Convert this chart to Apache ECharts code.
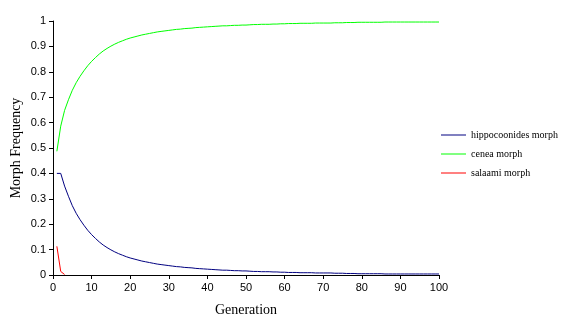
<!DOCTYPE html>
<html>
<head>
<meta charset="utf-8">
<script src="https://cdn.jsdelivr.net/npm/echarts@6/dist/echarts.min.js"></script>
<style>
  html, body { margin: 0; padding: 0; background: #ffffff; }
  #chart { width: 570px; height: 328px; }
</style>
</head>
<body>
<div id="chart"></div>
<script>
// Generation numbers (x values)
const generations = [
  1, 2, 3, 4, 5, 6, 7, 8, 9, 10,
  11, 12, 13, 14, 15, 16, 17, 18, 19, 20,
  21, 22, 23, 24, 25, 26, 27, 28, 29, 30,
  31, 32, 33, 34, 35, 36, 37, 38, 39, 40,
  41, 42, 43, 44, 45, 46, 47, 48, 49, 50,
  51, 52, 53, 54, 55, 56, 57, 58, 59, 60,
  61, 62, 63, 64, 65, 66, 67, 68, 69, 70,
  71, 72, 73, 74, 75, 76, 77, 78, 79, 80,
  81, 82, 83, 84, 85, 86, 87, 88, 89, 90,
  91, 92, 93, 94, 95, 96, 97, 98, 99, 100
];

// Morph frequencies per generation
const hippocoonides = [
  0.400, 0.400, 0.350, 0.310, 0.273, 0.243, 0.218, 0.196, 0.176, 0.159,
  0.144, 0.130, 0.118, 0.108, 0.099, 0.091, 0.084, 0.078, 0.072, 0.067,
  0.063, 0.059, 0.055, 0.052, 0.049, 0.046, 0.043, 0.041, 0.039, 0.037,
  0.035, 0.033, 0.032, 0.030, 0.029, 0.028, 0.026, 0.025, 0.024, 0.023,
  0.022, 0.021, 0.020, 0.019, 0.019, 0.018, 0.017, 0.017, 0.016, 0.016,
  0.015, 0.014, 0.014, 0.013, 0.013, 0.013, 0.012, 0.012, 0.011, 0.011,
  0.010, 0.010, 0.010, 0.009, 0.009, 0.009, 0.009, 0.008, 0.008, 0.008,
  0.008, 0.008, 0.007, 0.007, 0.007, 0.006, 0.006, 0.006, 0.005, 0.005,
  0.005, 0.005, 0.005, 0.005, 0.005, 0.004, 0.004, 0.004, 0.004, 0.004,
  0.004, 0.004, 0.004, 0.004, 0.004, 0.004, 0.004, 0.004, 0.004, 0.004
];

const cenea = [
  0.487, 0.586, 0.648, 0.690, 0.727, 0.757, 0.782, 0.804, 0.824, 0.841,
  0.856, 0.870, 0.882, 0.892, 0.901, 0.909, 0.916, 0.922, 0.928, 0.933,
  0.937, 0.941, 0.945, 0.948, 0.951, 0.954, 0.957, 0.959, 0.961, 0.963,
  0.965, 0.967, 0.968, 0.970, 0.971, 0.972, 0.974, 0.975, 0.976, 0.977,
  0.978, 0.979, 0.980, 0.981, 0.981, 0.982, 0.983, 0.983, 0.984, 0.984,
  0.985, 0.986, 0.986, 0.987, 0.987, 0.987, 0.988, 0.988, 0.989, 0.989,
  0.990, 0.990, 0.990, 0.991, 0.991, 0.991, 0.991, 0.992, 0.992, 0.992,
  0.992, 0.992, 0.993, 0.993, 0.993, 0.994, 0.994, 0.994, 0.995, 0.995,
  0.995, 0.995, 0.995, 0.995, 0.995, 0.996, 0.996, 0.996, 0.996, 0.996,
  0.996, 0.996, 0.996, 0.996, 0.996, 0.996, 0.996, 0.996, 0.996, 0.996
];

const salaami = [0.113, 0.014, 0.002];

const seriesNames = ['hippocoonides morph', 'cenea morph', 'salaami morph'];
const seriesColors = ['#000080', '#00ff00', '#ff0000'];

function pairs(values) {
  return values.map((v, i) => [generations[i], v]);
}

const chart = echarts.init(document.getElementById('chart'), null, { renderer: 'canvas' });

const axisText = { color: '#000', fontFamily: 'Liberation Sans, Arial, sans-serif', fontSize: 11 };
const titleText = { color: '#000', fontFamily: 'Liberation Serif, Times New Roman, serif', fontSize: 14 };

chart.setOption({
  animation: false,
  backgroundColor: '#ffffff',
  grid: { left: 53, top: 21, width: 386, height: 254, containLabel: false, outerBoundsMode: 'none' },
  xAxis: {
    type: 'value',
    min: 0, max: 100, interval: 10,
    name: 'Generation',
    nameLocation: 'middle',
    nameGap: 28,
    nameMoveOverlap: false,
    nameTextStyle: titleText,
    axisLine: { show: true, lineStyle: { color: '#000', width: 1 } },
    axisTick: { show: true, length: 4, lineStyle: { color: '#000' } },
    axisLabel: Object.assign({ margin: 7 }, axisText),
    splitLine: { show: false }
  },
  yAxis: {
    type: 'value',
    min: 0, max: 1, interval: 0.1,
    name: 'Morph Frequency',
    nameLocation: 'middle',
    nameGap: 30,
    nameMoveOverlap: false,
    nameTextStyle: titleText,
    axisLine: { show: true, lineStyle: { color: '#000', width: 1 } },
    axisTick: { show: true, length: 4, lineStyle: { color: '#000' } },
    axisLabel: Object.assign({ margin: 7, formatter: v => String(Math.round(v * 10) / 10) }, axisText),
    splitLine: { show: false }
  },
  legend: {
    orient: 'vertical',
    left: 441,
    top: 129,
    padding: 0,
    itemWidth: 25,
    itemHeight: 1,
    itemGap: 7,
    icon: 'rect',
    textStyle: { color: '#000', fontFamily: 'Liberation Serif, Times New Roman, serif', fontSize: 10, lineHeight: 12 },
    data: seriesNames
  },
  series: [
    { name: seriesNames[0], data: pairs(hippocoonides), color: seriesColors[0] },
    { name: seriesNames[1], data: pairs(cenea), color: seriesColors[1] },
    { name: seriesNames[2], data: pairs(salaami), color: seriesColors[2] }
  ].map(s => Object.assign({
    type: 'line',
    showSymbol: false,
    symbol: 'none',
    lineStyle: { width: 1, color: s.color },
    itemStyle: { color: s.color }
  }, s))
});
</script>
</body>
</html>
